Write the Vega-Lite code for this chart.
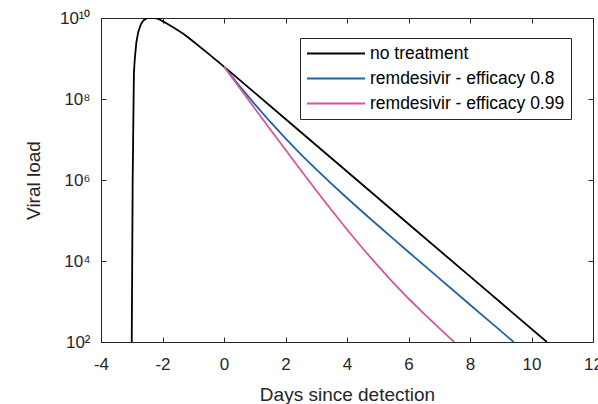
{
  "$schema": "https://vega.github.io/schema/vega-lite/v6.json",
  "width": 492,
  "height": 324,
  "autosize": {"type": "none"},
  "padding": {"left": 101, "top": 18, "right": 5, "bottom": 62},
  "background": "white",
  "config": {
    "view": {"stroke": "#262626", "strokeWidth": 1},
    "font": "Liberation Sans",
    "axis": {
      "domainColor": "#262626",
      "domainWidth": 1,
      "tickColor": "#262626",
      "tickWidth": 1,
      "grid": false,
      "labelFont": "Liberation Sans",
      "labelFontSize": 17,
      "labelColor": "#262626",
      "titleFont": "Liberation Sans",
      "titleFontSize": 19,
      "titleFontWeight": "normal",
      "titleColor": "#262626"
    }
  },
  "data": {
    "values": [
      {"t": -3.0, "v": 100, "s": "no treatment"},
      {"t": -2.985, "v": 1e4, "s": "no treatment"},
      {"t": -2.97, "v": 1e6, "s": "no treatment"},
      {"t": -2.955, "v": 1e7, "s": "no treatment"},
      {"t": -2.93, "v": 4.3e8, "s": "no treatment"},
      {"t": -2.9, "v": 1e9, "s": "no treatment"},
      {"t": -2.85, "v": 2.5e9, "s": "no treatment"},
      {"t": -2.79, "v": 4.47e9, "s": "no treatment"},
      {"t": -2.7, "v": 7.08e9, "s": "no treatment"},
      {"t": -2.62, "v": 8.71e9, "s": "no treatment"},
      {"t": -2.5, "v": 1.0e10, "s": "no treatment"},
      {"t": -2.41, "v": 1.03e10, "s": "no treatment"},
      {"t": -2.3, "v": 1.02e10, "s": "no treatment"},
      {"t": -2.14, "v": 9.55e9, "s": "no treatment"},
      {"t": -1.9, "v": 7.59e9, "s": "no treatment"},
      {"t": -1.59, "v": 5.5e9, "s": "no treatment"},
      {"t": -1.3, "v": 3.98e9, "s": "no treatment"},
      {"t": -1.05, "v": 2.82e9, "s": "no treatment"},
      {"t": -0.51, "v": 1.318e9, "s": "no treatment"},
      {"t": 0, "v": 6.31e8, "s": "no treatment"},
      {"t": 2, "v": 3.199e7, "s": "no treatment"},
      {"t": 4, "v": 1.622e6, "s": "no treatment"},
      {"t": 6, "v": 8.204e4, "s": "no treatment"},
      {"t": 8, "v": 4159, "s": "no treatment"},
      {"t": 10.5, "v": 100, "s": "no treatment"},

      {"t": 0, "v": 6.31e8, "s": "remdesivir - efficacy 0.8"},
      {"t": 0.5, "v": 2.123e8, "s": "remdesivir - efficacy 0.8"},
      {"t": 1, "v": 7.447e7, "s": "remdesivir - efficacy 0.8"},
      {"t": 1.5, "v": 2.748e7, "s": "remdesivir - efficacy 0.8"},
      {"t": 2, "v": 1.062e7, "s": "remdesivir - efficacy 0.8"},
      {"t": 2.5, "v": 4.315e6, "s": "remdesivir - efficacy 0.8"},
      {"t": 3, "v": 1.824e6, "s": "remdesivir - efficacy 0.8"},
      {"t": 3.5, "v": 8.0e5, "s": "remdesivir - efficacy 0.8"},
      {"t": 4, "v": 3.597e5, "s": "remdesivir - efficacy 0.8"},
      {"t": 4.5, "v": 1.644e5, "s": "remdesivir - efficacy 0.8"},
      {"t": 5, "v": 7.621e4, "s": "remdesivir - efficacy 0.8"},
      {"t": 5.5, "v": 3.556e4, "s": "remdesivir - efficacy 0.8"},
      {"t": 6, "v": 1.671e4, "s": "remdesivir - efficacy 0.8"},
      {"t": 6.5, "v": 7889, "s": "remdesivir - efficacy 0.8"},
      {"t": 7, "v": 3724, "s": "remdesivir - efficacy 0.8"},
      {"t": 7.5, "v": 1762, "s": "remdesivir - efficacy 0.8"},
      {"t": 8, "v": 834, "s": "remdesivir - efficacy 0.8"},
      {"t": 8.5, "v": 395, "s": "remdesivir - efficacy 0.8"},
      {"t": 9, "v": 188, "s": "remdesivir - efficacy 0.8"},
      {"t": 9.42, "v": 100, "s": "remdesivir - efficacy 0.8"},

      {"t": 0, "v": 6.31e8, "s": "remdesivir - efficacy 0.99"},
      {"t": 0.5, "v": 1.919e8, "s": "remdesivir - efficacy 0.99"},
      {"t": 1, "v": 5.848e7, "s": "remdesivir - efficacy 0.99"},
      {"t": 1.5, "v": 1.799e7, "s": "remdesivir - efficacy 0.99"},
      {"t": 2, "v": 5.559e6, "s": "remdesivir - efficacy 0.99"},
      {"t": 2.5, "v": 1.734e6, "s": "remdesivir - efficacy 0.99"},
      {"t": 3, "v": 5.508e5, "s": "remdesivir - efficacy 0.99"},
      {"t": 3.5, "v": 1.791e5, "s": "remdesivir - efficacy 0.99"},
      {"t": 4, "v": 5.998e4, "s": "remdesivir - efficacy 0.99"},
      {"t": 4.5, "v": 2.094e4, "s": "remdesivir - efficacy 0.99"},
      {"t": 5, "v": 7656, "s": "remdesivir - efficacy 0.99"},
      {"t": 5.5, "v": 2938, "s": "remdesivir - efficacy 0.99"},
      {"t": 6, "v": 1186, "s": "remdesivir - efficacy 0.99"},
      {"t": 6.5, "v": 501, "s": "remdesivir - efficacy 0.99"},
      {"t": 7, "v": 219, "s": "remdesivir - efficacy 0.99"},
      {"t": 7.25, "v": 146, "s": "remdesivir - efficacy 0.99"},
      {"t": 7.49, "v": 100, "s": "remdesivir - efficacy 0.99"}
    ]
  },
  "resolve": {"axis": {"x": "independent", "y": "independent"}},
  "layer": [
    {
      "mark": {"type": "line", "strokeWidth": 1.8, "clip": true},
      "encoding": {
        "x": {
          "field": "t", "type": "quantitative",
          "scale": {"domain": [-4, 12], "nice": false, "zero": false},
          "axis": {"orient": "bottom", "values": [-4, -2, 0, 2, 4, 6, 8, 10, 12], "labelExpr": "'' + datum.value", "title": "Days since detection", "tickSize": -5, "ticks": true, "labelPadding": 19, "titlePadding": 13, "labelFlush": false}
        },
        "y": {
          "field": "v", "type": "quantitative",
          "scale": {"type": "log", "domain": [100, 1e10], "nice": false},
          "axis": {
            "orient": "left",
            "values": [100, 10000, 1000000, 100000000, 10000000000],
            "labelExpr": "datum.value == 100 ? '10²' : datum.value == 10000 ? '10⁴' : datum.value == 1000000 ? '10⁶' : datum.value == 100000000 ? '10⁸' : '10¹⁰'",
            "title": "Viral load",
            "tickSize": -5,
            "ticks": true,
            "labelPadding": 16,
            "titlePadding": 16
          }
        },
        "color": {
          "field": "s", "type": "nominal",
          "scale": {
            "domain": ["no treatment", "remdesivir - efficacy 0.8", "remdesivir - efficacy 0.99"],
            "range": ["#000000", "#1f62a6", "#d6569b"]
          },
          "legend": {
            "title": null,
            "orient": "none",
            "legendX": 199,
            "legendY": 20,
            "symbolType": "stroke",
            "symbolSize": 3364,
            "symbolStrokeWidth": 2,
            "clipHeight": 19,
            "rowPadding": 6,
            "padding": 6,
            "labelOffset": 4,
            "labelFont": "Liberation Sans",
            "labelFontSize": 17.5,
            "labelColor": "#000000",
            "strokeColor": "#262626",
            "fillColor": "white",
            "cornerRadius": 0,
            "labelLimit": 400
          }
        }
      }
    },
    {
      "mark": {"type": "line", "opacity": 0},
      "encoding": {
        "x": {
          "field": "t", "type": "quantitative",
          "scale": {"domain": [-4, 12], "nice": false, "zero": false},
          "axis": {"orient": "top", "values": [-4, -2, 0, 2, 4, 6, 8, 10, 12], "labels": false, "title": null, "domain": true, "ticks": true, "tickSize": -5}
        },
        "y": {
          "field": "v", "type": "quantitative",
          "scale": {"type": "log", "domain": [100, 1e10], "nice": false},
          "axis": {"orient": "right", "values": [100, 10000, 1000000, 100000000, 10000000000], "labels": false, "title": null, "domain": true, "ticks": true, "tickSize": -5}
        },
        "detail": {"field": "s"}
      }
    }
  ]
}
